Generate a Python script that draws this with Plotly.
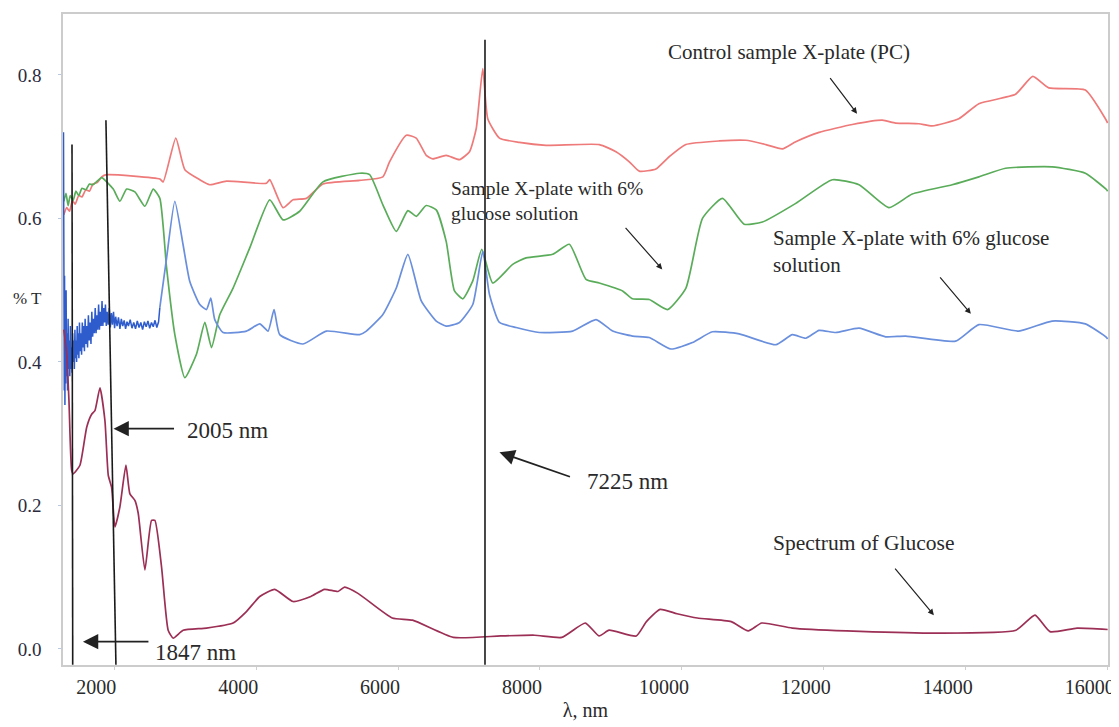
import plotly.graph_objects as go
import numpy as np

# ---------------- data (wavelength nm, %T fraction) ----------------
pc_x = [1290, 1330, 1370, 1410, 1450, 1500, 1545, 1600, 1650, 1700, 1760, 1823, 1893, 2643, 2690,
        2868, 2995, 3206, 3347, 3582, 4145, 4192, 4379, 4520, 4708, 4942, 5458, 5786, 5880, 6116,
        6256, 6397, 6490, 6678, 6866, 7007, 7101, 7194, 7264, 7429, 7710, 8086, 8836, 9071, 9259,
        9399, 9634, 9821, 10056, 10525, 10901, 11183, 11416, 11605, 11933, 12402, 12824, 13012,
        13340, 13527, 13903, 14185, 14701, 14945, 15170, 15686, 15968, 16000]
pc_y = [0.605, 0.615, 0.610, 0.625, 0.620, 0.632, 0.630, 0.640, 0.638, 0.648, 0.650, 0.658, 0.661,
        0.655, 0.651, 0.712, 0.668, 0.654, 0.647, 0.652, 0.649, 0.654, 0.615, 0.626, 0.628, 0.648,
        0.653, 0.658, 0.679, 0.716, 0.712, 0.688, 0.683, 0.688, 0.682, 0.693, 0.725, 0.809, 0.739,
        0.712, 0.706, 0.702, 0.703, 0.693, 0.679, 0.666, 0.669, 0.686, 0.703, 0.708, 0.709, 0.703,
        0.697, 0.707, 0.720, 0.731, 0.737, 0.733, 0.732, 0.729, 0.739, 0.760, 0.773, 0.798, 0.782,
        0.779, 0.739, 0.733]

g6a_x = [1290, 1320, 1350, 1380, 1420, 1460, 1500, 1545, 1600, 1650, 1700, 1760, 1823, 1986, 2080,
         2175, 2291, 2432, 2549, 2643, 2738, 2854, 2995, 3160, 3277, 3371, 3488, 3675, 3910, 4192,
         4379, 4614, 4942, 5458, 5599, 5786, 5975, 6138, 6256, 6397, 6538, 6678, 6795, 6912, 7053,
         7180, 7334, 7616, 7804, 8179, 8414, 8649, 8836, 9164, 9305, 9540, 9798, 10057, 10290,
         10572, 10877, 11135, 11605, 12120, 12496, 12918, 13246, 13809, 14185, 14561, 15217, 15686,
         15986, 16000]
g6a_y = [0.624, 0.635, 0.618, 0.632, 0.625, 0.638, 0.632, 0.642, 0.640, 0.648, 0.647, 0.652, 0.657,
         0.641, 0.624, 0.641, 0.637, 0.617, 0.641, 0.628, 0.531, 0.438, 0.378, 0.411, 0.455, 0.420,
         0.466, 0.503, 0.559, 0.626, 0.598, 0.610, 0.651, 0.663, 0.661, 0.619, 0.582, 0.611, 0.603,
         0.618, 0.612, 0.568, 0.499, 0.488, 0.513, 0.557, 0.510, 0.536, 0.545, 0.550, 0.564, 0.515,
         0.510, 0.499, 0.488, 0.487, 0.473, 0.503, 0.600, 0.628, 0.592, 0.595, 0.621, 0.654, 0.647,
         0.615, 0.634, 0.647, 0.658, 0.670, 0.672, 0.663, 0.640, 0.638]

# noisy short-wave part of the second sample (read as an envelope of the jitter)
g6b_noise_x = [1285, 1288, 1292, 1296, 1300, 1305, 1310, 1316, 1322, 1328, 1335, 1342, 1350, 1358,
               1366, 1374, 1382, 1390, 1398, 1406, 1414, 1422, 1430, 1438, 1446, 1454, 1462, 1470,
               1478, 1486, 1494, 1502, 1510, 1520, 1530, 1540, 1550, 1560, 1570, 1580, 1590, 1600,
               1612, 1624, 1636, 1648, 1660, 1672, 1684, 1696, 1708, 1720, 1732, 1744, 1756, 1768,
               1780, 1792, 1804, 1816, 1828, 1840, 1852, 1864, 1876, 1888, 1900, 1915, 1930, 1945,
               1960, 1975, 1990, 2005, 2020, 2040, 2060, 2080, 2100, 2120, 2140, 2160, 2180, 2200,
               2225, 2250, 2275, 2300, 2325, 2350, 2375, 2400, 2425, 2450, 2475, 2500, 2525, 2550,
               2575, 2600, 2625, 2643]
g6b_noise_y = [0.720, 0.400, 0.600, 0.360, 0.520, 0.340, 0.470, 0.370, 0.500, 0.380, 0.440, 0.360,
               0.460, 0.390, 0.430, 0.380, 0.450, 0.390, 0.420, 0.385, 0.440, 0.400, 0.430, 0.390,
               0.445, 0.405, 0.430, 0.400, 0.450, 0.410, 0.440, 0.405, 0.455, 0.415, 0.440, 0.410,
               0.455, 0.420, 0.450, 0.415, 0.460, 0.425, 0.450, 0.420, 0.465, 0.430, 0.455, 0.425,
               0.470, 0.435, 0.460, 0.440, 0.475, 0.440, 0.465, 0.445, 0.480, 0.445, 0.470, 0.450,
               0.485, 0.450, 0.475, 0.455, 0.480, 0.450, 0.470, 0.452, 0.475, 0.448, 0.468, 0.452,
               0.470, 0.447, 0.463, 0.450, 0.462, 0.446, 0.460, 0.450, 0.458, 0.446, 0.456, 0.450,
               0.459, 0.447, 0.455, 0.446, 0.457, 0.448, 0.455, 0.445, 0.456, 0.449, 0.457, 0.447,
               0.455, 0.449, 0.458, 0.448, 0.456, 0.476]
g6b_x = [2643, 2738, 2854, 2971, 3065, 3206, 3300, 3361, 3417, 3534, 3863, 4051, 4168, 4252, 4332,
         4660, 4990, 5458, 5553, 5786, 5975, 6138, 6327, 6538, 6678, 6866, 7053, 7194, 7288, 7429,
         7664, 7992, 8460, 8790, 9024, 9305, 9540, 9845, 10149, 10431, 10807, 11324, 11557, 11745,
         11933, 12168, 12496, 12871, 13153, 13857, 14185, 14748, 15217, 15686, 15986, 16000]
g6b_y = [0.476, 0.545, 0.624, 0.563, 0.512, 0.480, 0.473, 0.489, 0.459, 0.441, 0.443, 0.453, 0.443,
         0.473, 0.438, 0.425, 0.443, 0.438, 0.443, 0.466, 0.503, 0.550, 0.485, 0.457, 0.450, 0.455,
         0.480, 0.554, 0.494, 0.455, 0.448, 0.441, 0.443, 0.459, 0.443, 0.436, 0.434, 0.418, 0.427,
         0.442, 0.439, 0.424, 0.438, 0.433, 0.444, 0.441, 0.447, 0.435, 0.436, 0.429, 0.452, 0.443,
         0.457, 0.453, 0.434, 0.432]

glu_x = [1290, 1330, 1362, 1400, 1423, 1517, 1612, 1682, 1728, 1799, 1869, 1916, 1963, 2010, 2080,
         2165, 2221, 2291, 2338, 2432, 2526, 2573, 2667, 2760, 2831, 2971, 3300, 3675, 3863, 4051,
         4262, 4520, 4771, 4963, 5153, 5247, 5440, 5918, 6204, 6779, 7447, 7924, 8307, 8640, 8832,
         8975, 9357, 9500, 9692, 9931, 10218, 10695, 10935, 11125, 11555, 12320, 13562, 14708,
         14976, 15187, 15569, 16000]
glu_y = [0.445, 0.411, 0.346, 0.249, 0.244, 0.256, 0.309, 0.327, 0.332, 0.364, 0.318, 0.242, 0.225,
         0.170, 0.198, 0.256, 0.216, 0.207, 0.189, 0.110, 0.179, 0.179, 0.114, 0.026, 0.015, 0.026,
         0.029, 0.036, 0.052, 0.073, 0.083, 0.066, 0.073, 0.083, 0.080, 0.086, 0.077, 0.043, 0.040,
         0.016, 0.018, 0.019, 0.016, 0.036, 0.018, 0.026, 0.018, 0.038, 0.055, 0.049, 0.043, 0.038,
         0.025, 0.036, 0.029, 0.025, 0.022, 0.026, 0.047, 0.024, 0.029, 0.027]

x_ticks = [2000, 4000, 6000, 8000, 10000, 12000, 14000, 16000]
x_tick_text = ["2000", "4000", "6000", "8000", "10000", "12000", "14000", "16000"]
y_ticks = [0.0, 0.2, 0.4, 0.6, 0.8]
y_tick_text = ["0.0", "0.2", "0.4", "0.6", "0.8"]

marker_lines = [7225]  # vertical marker wavelength (nm)

SERIF = "Liberation Serif, Times New Roman, serif"
INK = "#2a2a2a"

fig = go.Figure()

smooth = dict(shape="spline", smoothing=0.5)
fig.add_trace(go.Scatter(x=pc_x, y=pc_y, mode="lines",
                         line=dict(color="#ee7a7a", width=1.7, **smooth), showlegend=False))
fig.add_trace(go.Scatter(x=g6a_x, y=g6a_y, mode="lines",
                         line=dict(color="#5aac5a", width=1.7, **smooth), showlegend=False))
fig.add_trace(go.Scatter(x=g6b_noise_x, y=g6b_noise_y, mode="lines",
                         line=dict(color="#2e5ccc", width=1.5), showlegend=False))
fig.add_trace(go.Scatter(x=g6b_x, y=g6b_y, mode="lines",
                         line=dict(color="#6a8fdc", width=1.7, **smooth), showlegend=False))
fig.add_trace(go.Scatter(x=glu_x, y=glu_y, mode="lines",
                         line=dict(color="#9c2f55", width=1.7, **smooth), showlegend=False))

# vertical reference lines
line_style = dict(color="#1a1a1a", width=1.6)
fig.add_shape(type="line", x0=1405, x1=1415, y0=0.703, y1=-0.022, line=line_style)
fig.add_shape(type="line", x0=1883, x1=2024, y0=0.737, y1=-0.022, line=line_style)
fig.add_shape(type="line", x0=marker_lines[0], x1=marker_lines[0], y0=0.849, y1=-0.022, line=line_style)

# page body adds an 8px offset; plot area target: left 63, right 1109, top 12, bottom 665
OFF = 8
L, R, T, B = 63, 1109, 12, 665


def px(p):
    return (p - L) / float(R - L)


def py(p):
    return (B - p) / float(B - T)


def label(x, y, text, size=21):
    fig.add_annotation(x=px(x), y=py(y), xref="paper", yref="paper", text=text, showarrow=False,
                       xanchor="left", yanchor="middle", align="left",
                       font=dict(family=SERIF, size=size, color=INK))


def arrow(x, y, ax, ay, width=1.2, head=1.0):
    fig.add_annotation(x=x, y=y, xref="x", yref="y", text="", showarrow=True,
                       ax=ax, ay=ay, axref="pixel", ayref="pixel",
                       arrowhead=2, arrowsize=head, arrowwidth=width, arrowcolor="#222222")


label(667, 50, "Control sample X-plate (PC)", 21)
label(449, 200, "Sample X-plate with 6%<br>glucose solution", 19.5)
label(772, 250, "Sample X-plate with 6% glucose<br>solution", 21)
label(772, 543, "Spectrum of Glucose", 21.5)
label(185, 430, "2005 nm", 23)
label(585, 481, "7225 nm", 23)
label(153, 652, "1847 nm", 23)
label(11, 297, "% T", 17)

arrow(12468, 0.746, -28, -37)
arrow(9723, 0.529, -38, -43)
arrow(14072, 0.467, -32, -38)
arrow(13551, 0.047, -40, -48)
arrow(1990, 0.307, 62, 0, width=1.7, head=1.8)
arrow(7429, 0.274, 72, 25, width=1.7, head=1.8)
arrow(1559, 0.010, 67, 0, width=1.7, head=1.8)

fig.update_layout(
    width=1119 - OFF, height=727 - OFF,
    margin=dict(l=L - OFF, r=1119 - R, t=T - OFF, b=727 - B),
    paper_bgcolor="white", plot_bgcolor="white",
    xaxis=dict(range=[1278, 16005], tickvals=x_ticks, ticktext=x_tick_text,
               ticks="outside", ticklen=3, ticklabelshift=-18,
               tickcolor="#cfcfcf", showgrid=False, zeroline=False,
               showline=True, mirror=True, linecolor="#cccccc", linewidth=1.5,
               tickfont=dict(family=SERIF, size=20, color=INK),
               title=dict(text="λ, nm", font=dict(family=SERIF, size=20, color=INK),
                          standoff=6)),
    yaxis=dict(range=[-0.0225, 0.885], tickvals=y_ticks, ticktext=y_tick_text,
               ticks="outside", ticklen=3, tickcolor="#b8c8e0", showgrid=False,
               zeroline=False, showline=True, mirror=True, linecolor="#cccccc", linewidth=1.5,
               ticklabelstandoff=13,
               tickfont=dict(family=SERIF, size=19, color="#2b2b40")),
)

fig.write_html("out.html")
